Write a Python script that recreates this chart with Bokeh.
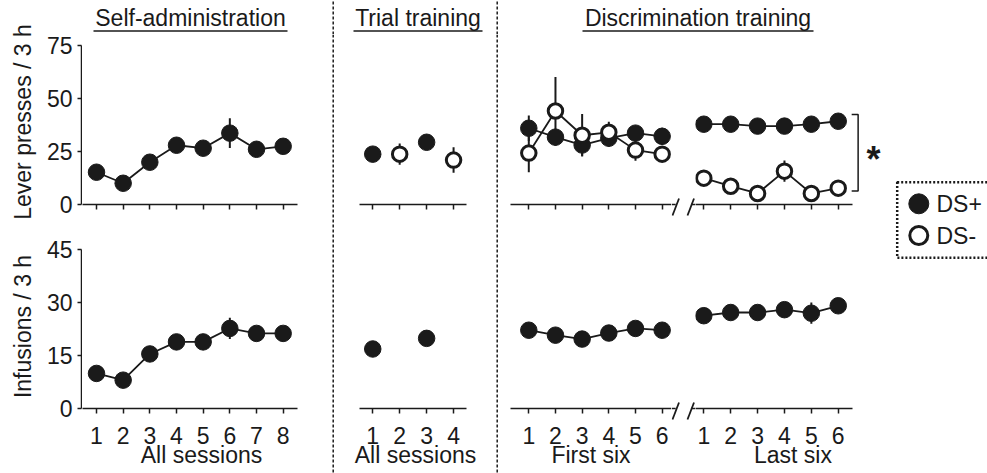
from bokeh.plotting import figure
from bokeh.layouts import row, column
from bokeh.models import Range1d, FixedTicker, Span
from bokeh.core.properties import value
from bokeh.embed import file_html
from bokeh.resources import INLINE

FONT = "Liberation Sans"
INK = "#1a1a1a"
FS = "23px"

# ---------------- data ----------------
sa_sessions = [1, 2, 3, 4, 5, 6, 7, 8]
sa_lever = [15.2, 10.0, 19.9, 27.9, 26.5, 33.6, 26.0, 27.4]
sa_lever_err = [1.5, 2, 2, 2, 2, 7, 3, 2]
sa_inf = [9.9, 8.0, 15.4, 18.8, 18.8, 22.6, 21.2, 21.2]
sa_inf_err = [1, 1, 1, 1, 1, 3, 1.5, 1]

tt_plus_sessions = [1, 3]
tt_plus_lever = [23.7, 29.3]
tt_plus_lever_err = [2, 3]
tt_minus_sessions = [2, 4]
tt_minus_lever = [23.7, 20.9]
tt_minus_lever_err = [5, 6]
tt_inf = [16.8, 19.8]
tt_inf_err = [1, 1]

disc_sessions = [1, 2, 3, 4, 5, 6]
first_plus = [35.9, 31.7, 28.0, 31.2, 33.6, 32.1]
first_plus_err = [6, 4, 5, 4, 3, 4]
first_minus = [24.2, 44.0, 32.6, 34.0, 25.6, 23.7]
first_minus_err = [9, 16, 10, 5, 5, 3]
last_plus = [37.8, 37.8, 36.9, 36.9, 37.8, 39.2]
last_plus_err = [2.5, 2, 2, 2, 3, 2]
last_minus = [12.4, 8.6, 5.2, 15.7, 5.2, 7.7]
last_minus_err = [1.5, 1.5, 1.5, 5, 1.5, 1.5]
first_inf = [22.1, 20.7, 19.6, 21.3, 22.6, 22.1]
first_inf_err = [1.5, 2, 2, 1.5, 1.5, 2]
last_inf = [26.2, 27.1, 27.1, 27.9, 26.9, 29.0]
last_inf_err = [1, 1, 1, 1, 3, 1]

lever_ticks = [0, 25, 50, 75]
inf_ticks = [0, 15, 30, 45]

section_titles = ["Self-administration", "Trial training", "Discrimination training"]
legend_labels = ["DS+", "DS-"]

TOP_Y = (0, 77.68)
BOT_Y = (0, 46.3)
TOP_H, BOT_H = 200, 239


def base(width, height, xr, yr, **kw):
    p = figure(width=width, height=height, x_range=Range1d(*xr), y_range=Range1d(*yr),
               output_backend="svg", toolbar_location=None, title=None, **kw)
    p.outline_line_color = None
    p.background_fill_color = "white"
    p.border_fill_color = "white"
    p.xgrid.visible = False
    p.ygrid.visible = False
    return p


def style_axis(ax):
    ax.axis_line_width = 1.5
    ax.axis_line_color = INK
    ax.major_tick_line_color = INK
    ax.major_tick_line_width = 1.5
    ax.major_tick_in = 0
    ax.minor_tick_line_color = None
    ax.major_label_text_font = FONT
    ax.major_label_text_font_size = FS
    ax.major_label_text_color = INK
    ax.axis_label_text_font = FONT
    ax.axis_label_text_font_size = FS
    ax.axis_label_text_font_style = "normal"
    ax.axis_label_text_color = INK


def panel(width, xr, bounds, ticks, top, xlabel=None):
    if top:
        h, mt, mb, yr = TOP_H, 5, 30, TOP_Y
    else:
        h, mt, mb, yr = BOT_H, 10, 65, BOT_Y
    p = base(width, h, xr, yr, y_axis_location=None,
             min_border_left=0, min_border_right=0, min_border_top=mt, min_border_bottom=mb)
    ax = p.xaxis[0]
    style_axis(ax)
    ax.ticker = FixedTicker(ticks=ticks)
    ax.bounds = bounds
    ax.major_tick_out = 5
    if top:
        ax.major_label_text_font_size = "0px"
        ax.major_label_overrides = {t: "" for t in ticks}
        ax.major_label_standoff = 0
    else:
        ax.major_label_standoff = 13
        ax.axis_label = xlabel
        ax.axis_label_standoff = -5
    return p


def yaxis_fig(top, ticks, label):
    if top:
        h, mt, mb, yr = TOP_H + 34, 39, 30, TOP_Y
    else:
        h, mt, mb, yr = BOT_H, 10, 65, BOT_Y
    p = base(82, h, (0, 1), yr, x_axis_location=None, y_axis_location="left",
             min_border_left=81, min_border_right=0, min_border_top=mt, min_border_bottom=mb)
    ya = p.yaxis[0]
    style_axis(ya)
    ya.ticker = FixedTicker(ticks=ticks)
    ya.bounds = (ticks[0], ticks[-1])
    ya.major_tick_out = 4
    ya.major_label_standoff = 5
    ya.axis_label = label
    ya.axis_label_standoff = 8
    return p


def series(p, x, y, err, connect=True):
    if connect:
        p.line(x, y, line_color=INK, line_width=1.8)
    lo = [a - e for a, e in zip(y, err)]
    hi = [a + e for a, e in zip(y, err)]
    p.segment(x0=x, y0=lo, x1=x, y1=hi, line_color=INK, line_width=2)


def markers(p, x, y, filled=True):
    if filled:
        p.scatter(x, y, size=16.5, fill_color=INK, line_color=INK, line_width=1)
    else:
        p.scatter(x, y, size=14.5, fill_color="white", line_color=INK, line_width=3)


def blank(width, height):
    return base(width, height, (0, width), (0, height), x_axis_location=None,
                y_axis_location=None, min_border_left=0, min_border_right=0,
                min_border_top=0, min_border_bottom=0)


# ---------- y axes (own narrow figures sharing the panel scales) ----------
ya_top = yaxis_fig(True, lever_ticks, "Lever presses / 3 h")
ya_bot = yaxis_fig(False, inf_ticks, "Infusions / 3 h")

# ---------- Self-administration ----------
SA_X = (0.475, 9.40)
SA_B = (0.475, 8.525)
sa_top = panel(238, SA_X, SA_B, sa_sessions, True)
series(sa_top, sa_sessions, sa_lever, sa_lever_err)
markers(sa_top, sa_sessions, sa_lever)

sa_bot = panel(238, SA_X, SA_B, sa_sessions, False, xlabel="All sessions")
series(sa_bot, sa_sessions, sa_inf, sa_inf_err)
markers(sa_bot, sa_sessions, sa_inf)

# ---------- Trial training ----------
TT_X = (-0.011, 5.185)
TT_B = (0.519, 4.47)
tt_ticks = [1, 2, 3, 4]
tt_top = panel(140, TT_X, TT_B, tt_ticks, True)
series(tt_top, tt_plus_sessions, tt_plus_lever, tt_plus_lever_err, connect=False)
series(tt_top, tt_minus_sessions, tt_minus_lever, tt_minus_lever_err, connect=False)
markers(tt_top, tt_plus_sessions, tt_plus_lever)
markers(tt_top, tt_minus_sessions, tt_minus_lever, filled=False)

tt_bot = panel(140, TT_X, TT_B, tt_ticks, False, xlabel="All sessions")
series(tt_bot, tt_plus_sessions, tt_inf, tt_inf_err, connect=False)
markers(tt_bot, tt_plus_sessions, tt_inf)

# ---------- Discrimination: first six ----------
DF_X = (0.314, 6.350)
DF_B = (0.314, 6.350)
df_top = panel(161, DF_X, DF_B, disc_sessions, True)
series(df_top, disc_sessions, first_plus, first_plus_err)
series(df_top, disc_sessions, first_minus, first_minus_err)
markers(df_top, disc_sessions, first_plus)
markers(df_top, disc_sessions, first_minus, filled=False)

df_bot = panel(161, DF_X, DF_B, disc_sessions, False, xlabel="First six")
series(df_bot, disc_sessions, first_inf, first_inf_err)
markers(df_bot, disc_sessions, first_inf)

# ---------- Discrimination: last six ----------
DL_X = (0.6914, 7.944)
DL_B = (0.6914, 6.52)
dl_top = panel(195, DL_X, DL_B, disc_sessions, True)
series(dl_top, disc_sessions, last_plus, last_plus_err)
series(dl_top, disc_sessions, last_minus, last_minus_err)
markers(dl_top, disc_sessions, last_plus)
markers(dl_top, disc_sessions, last_minus, filled=False)
# significance bracket
dl_top.line([6.5, 6.74, 6.74, 6.5], [42.4, 42.4, 6.4, 6.4], line_color=INK, line_width=1.5)
dl_top.text(x=[7.31], y=[21.2], text=["*"], text_font=value(FONT), text_font_size="36px",
            text_font_style="bold", text_align="center", text_baseline="alphabetic",
            text_color=INK)

dl_bot = panel(195, DL_X, DL_B, disc_sessions, False, xlabel="Last six")
series(dl_bot, disc_sessions, last_inf, last_inf_err)
markers(dl_bot, disc_sessions, last_inf)

# ---------- axis break (between first six and last six) ----------
brk = blank(24, 439)
# top row axis at y = 269, bottom row axis at y = 65 (in this strip's pixels)
for ya in (269, 65):
    brk.segment(x0=[0, 19.5], y0=[ya, ya], x1=[4.2, 24], y1=[ya, ya],
                line_color=INK, line_width=1.5)
    brk.segment(x0=[1, 16], y0=[ya - 11, ya - 11], x1=[7.5, 22.5], y1=[ya + 6, ya + 6],
                line_color=INK, line_width=1.8)

# ---------- heading strip ----------
strip = blank(905, 34)
centers = [108, 335.5, 615.5]
widths = [194, 129, 231]
strip.text(x=centers, y=[16.5] * 3, text=section_titles, text_font=value(FONT),
           text_font_size=FS, text_align="center", text_baseline="middle", text_color=INK)
strip.segment(x0=[c - w / 2 for c, w in zip(centers, widths)], y0=[3.5] * 3,
              x1=[c + w / 2 for c, w in zip(centers, widths)], y1=[3.5] * 3,
              line_color=INK, line_width=1.5)
strip.segment(x0=[250.7, 414.7], y0=[0, 0], x1=[250.7, 414.7], y1=[34, 34],
              line_color=INK, line_width=1.5, line_dash="3 2")


# ---------- separators ----------
def separator(loc):
    s = blank(25, 439)
    s.add_layout(Span(location=loc, dimension="height", line_color=INK, line_width=1.5,
                      line_dash="3 2"))
    return s

sep1 = separator(12.7)
sep2 = separator(11.7)

# ---------- legend ----------
leg = blank(97, 439)   # y = 473 - page y
leg.quad(left=[6.7], right=[140], bottom=[215.7], top=[291.3], fill_color=None,
         line_color=INK, line_width=2.5, line_dash="2 2")
leg.scatter([28.3], [269.7], size=20, fill_color=INK, line_color=INK, line_width=1)
leg.scatter([28.3], [238], size=18, fill_color="white", line_color=INK, line_width=3)
leg.text(x=[46, 46], y=[269.7, 238], text=legend_labels, text_font=value(FONT),
         text_font_size=FS, text_baseline="middle", text_align="left", text_color=INK)

panels = row(
    column(sa_top, sa_bot, spacing=0),
    sep1,
    column(tt_top, tt_bot, spacing=0),
    sep2,
    column(df_top, df_bot, spacing=0),
    brk,
    column(dl_top, dl_bot, spacing=0),
    leg,
    spacing=0,
)

layout = row(
    column(ya_top, ya_bot, spacing=0),
    column(strip, panels, spacing=0),
    spacing=0,
)

open("out.html", "w").write(file_html(layout, INLINE))
